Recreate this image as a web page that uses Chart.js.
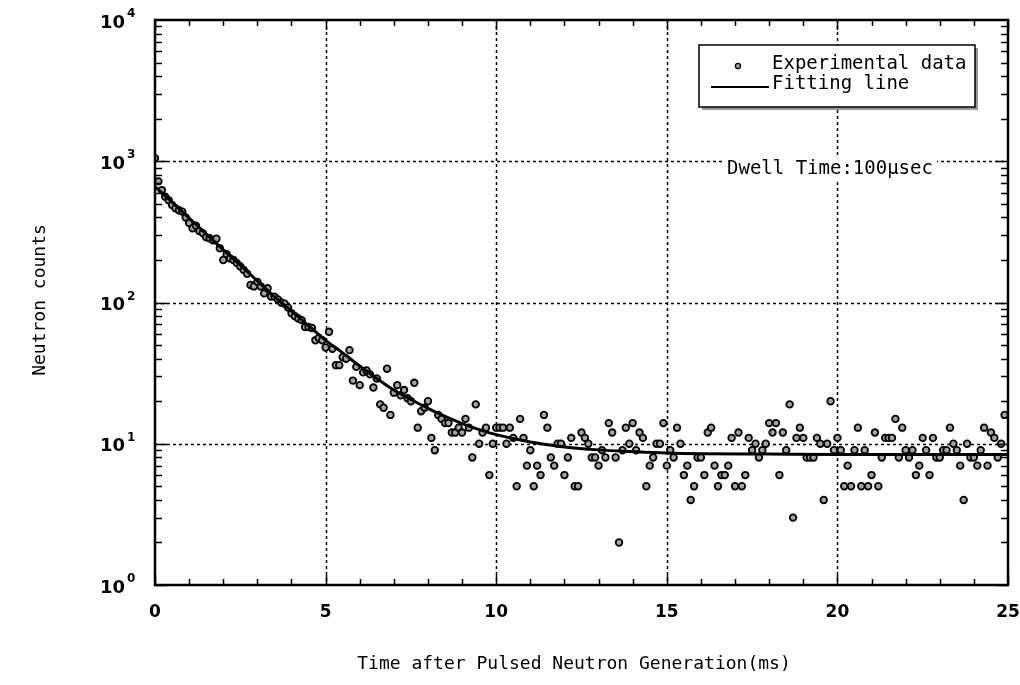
<!DOCTYPE html>
<html>
<head>
<meta charset="utf-8">
<script src="https://cdn.jsdelivr.net/npm/chart.js@4.4.1/dist/chart.umd.min.js"></script>
<style>
  html, body { margin: 0; padding: 0; background: #fff; }
  #wrap { width: 1020px; height: 685px; }
</style>
</head>
<body>
<div id="wrap"><canvas id="chart" width="1020" height="685"></canvas></div>
<script>
"use strict";

// ── Data ───────────────────────────────────────────────────
// One count per 0.1 ms channel (dwell time 100 µs), channel 0 at t = 0.
const DWELL_MS = 0.1;
const counts = [
  1050, 720, 625, 560, 530, 490, 465, 450, 440, 400,   // 0.0 – 0.9
  365, 335, 350, 320, 310, 290, 285, 276, 283, 242,    // 1.0 – 1.9
  200, 220, 205, 200, 190, 180, 170, 160, 133, 130,    // 2.0 – 2.9
  140, 130, 116, 126, 110, 110, 105, 100, 98, 92,      // 3.0 – 3.9
  84, 80, 77, 75, 67, 67, 66, 54, 56, 54,              // 4.0 – 4.9
  48, 62, 47, 36, 36, 41, 40, 46, 28, 35,              // 5.0 – 5.9
  26, 32, 33, 31, 25, 29, 19, 18, 34, 16,              // 6.0 – 6.9
  23, 26, 22, 24, 21, 20, 27, 13, 17, 18,              // 7.0 – 7.9
  20, 11, 9, 16, 15, 14, 14, 12, 12, 13,               // 8.0 – 8.9
  12, 15, 13, 8, 19, 10, 12, 13, 6, 10,                // 9.0 – 9.9
  13, 13, 13, 10, 13, 11, 5, 15, 11, 7,                // 10.0 – 10.9
  9, 5, 7, 6, 16, 13, 8, 7, 10, 10,                    // 11.0 – 11.9
  6, 8, 11, 5, 5, 12, 11, 10, 8, 8,                    // 12.0 – 12.9
  7, 9, 8, 14, 12, 8, 2, 9, 13, 10,                    // 13.0 – 13.9
  14, 9, 12, 11, 5, 7, 8, 10, 10, 14,                  // 14.0 – 14.9
  7, 9, 8, 13, 10, 6, 7, 4, 5, 8,                      // 15.0 – 15.9
  8, 6, 12, 13, 7, 5, 6, 6, 7, 11,                     // 16.0 – 16.9
  5, 12, 5, 6, 11, 9, 10, 8, 9, 10,                    // 17.0 – 17.9
  14, 12, 14, 6, 12, 9, 19, 3, 11, 13,                 // 18.0 – 18.9
  11, 8, 8, 8, 11, 10, 4, 10, 20, 9,                   // 19.0 – 19.9
  11, 9, 5, 7, 5, 9, 13, 5, 9, 5,                      // 20.0 – 20.9
  6, 12, 5, 8, 11, 11, 11, 15, 8, 13,                  // 21.0 – 21.9
  9, 8, 9, 6, 7, 11, 9, 6, 11, 8,                      // 22.0 – 22.9
  8, 9, 9, 13, 10, 9, 7, 4, 10, 8,                     // 23.0 – 23.9
  8, 7, 9, 13, 7, 12, 11, 8, 10, 16                    // 24.0 – 24.9
];

// Fitted curve, sampled off the drawn line.
const fitTime = [0, 0.5, 1, 1.5, 2, 2.5, 3, 3.5, 4, 4.5, 5, 5.5, 6, 6.5, 7, 7.5,
                 8, 8.5, 9, 9.5, 10, 11, 12, 13, 14, 15, 16, 18, 20, 22, 25];
const fitCounts = [660, 514, 396, 305, 236, 184, 142, 110, 87, 68.7, 54, 44, 35.5, 29, 24, 20.6,
                   17.8, 15.6, 13.9, 12.6, 11.6, 10.3, 9.5, 9.05, 8.8, 8.6, 8.5, 8.45, 8.4, 8.4, 8.4];

const xTicks = [0, 5, 10, 15, 20, 25];
const yDecades = [0, 1, 2, 3, 4];          // 10^0 … 10^4
const seriesLabels = ["Experimental data", "Fitting line"];
const noteText = "Dwell Time:100\u03bcsec";
const xTitle = "Time after Pulsed Neutron Generation(ms)";
const yTitle = "Neutron counts";

const MONO = '"DejaVu Sans Mono", monospace';
const SANS = '"DejaVu Sans", sans-serif';

// ── Decorations drawn with the chart's own scales ─────────
const frame = {
  id: "frame",
  beforeDatasetsDraw(chart) {
    const { ctx, chartArea: a, scales: { x, y } } = chart;
    ctx.save();
    ctx.strokeStyle = "#000";
    ctx.lineWidth = 1.5;
    ctx.setLineDash([3, 3]);
    xTicks.slice(1, -1).forEach((v) => {
      const px = Math.round(x.getPixelForValue(v)) + 0.5;
      ctx.beginPath(); ctx.moveTo(px, a.top); ctx.lineTo(px, a.bottom); ctx.stroke();
    });
    yDecades.slice(1, -1).forEach((e) => {
      const py = Math.round(y.getPixelForValue(Math.pow(10, e))) + 0.5;
      ctx.beginPath(); ctx.moveTo(a.left, py); ctx.lineTo(a.right, py); ctx.stroke();
    });
    ctx.restore();

    // note with a white box that hides the grid behind it
    ctx.save();
    ctx.font = `19px ${MONO}`;
    const w = ctx.measureText(noteText).width;
    const nx = 727, ny = y.getPixelForValue(1000) + 8;
    ctx.fillStyle = "#fff";
    ctx.fillRect(nx - 4, ny - 11, w + 8, 22);
    ctx.fillStyle = "#000";
    ctx.textBaseline = "middle";
    ctx.fillText(noteText, nx, ny);
    ctx.restore();
  },
  afterDatasetsDraw(chart) {
    const { ctx, chartArea: a, scales: { x, y } } = chart;
    ctx.save();
    ctx.strokeStyle = "#000";
    ctx.lineWidth = 1.5;
    // inward ticks: x every 1 ms, longer on multiples of 5
    for (let t = 0; t <= 25; t++) {
      const px = Math.round(x.getPixelForValue(t)) + 0.5;
      const len = t % 5 === 0 ? 10 : 6;
      ctx.beginPath();
      ctx.moveTo(px, a.bottom); ctx.lineTo(px, a.bottom - len);
      ctx.moveTo(px, a.top); ctx.lineTo(px, a.top + len);
      ctx.stroke();
    }
    // inward ticks: y at 1..9 of each decade
    for (let e = 0; e < 4; e++) {
      for (let m = 1; m <= 9; m++) {
        const py = Math.round(y.getPixelForValue(m * Math.pow(10, e))) + 0.5;
        const len = m === 1 ? 12 : 7;
        ctx.beginPath();
        ctx.moveTo(a.left, py); ctx.lineTo(a.left + len, py);
        ctx.moveTo(a.right, py); ctx.lineTo(a.right - len, py);
        ctx.stroke();
      }
    }
    // frame
    ctx.lineWidth = 2.5;
    ctx.strokeRect(a.left, a.top, a.right - a.left, a.bottom - a.top);

    // y tick labels with superscript exponents
    ctx.fillStyle = "#000";
    ctx.textBaseline = "middle";
    yDecades.forEach((e) => {
      const py = y.getPixelForValue(Math.pow(10, e));
      ctx.font = `bold 18px ${SANS}`;
      ctx.textAlign = "right";
      ctx.fillText("10", 125, py + 3);
      ctx.font = `bold 12px ${SANS}`;
      ctx.textAlign = "left";
      ctx.fillText(String(e), 127, py - 6);
    });

    // axis titles
    ctx.font = `18px ${MONO}`;
    ctx.textAlign = "center";
    ctx.fillText(xTitle, 574, 664);
    ctx.translate(40, 300);
    ctx.rotate(-Math.PI / 2);
    ctx.fillText(yTitle, 0, 0);
    ctx.restore();
  },
  afterDraw(chart) {
    // legend box with drop shadow
    const { ctx } = chart;
    const bx = 699, by = 45, bw = 276, bh = 62;
    ctx.save();
    ctx.fillStyle = "#9a9a9a";
    ctx.fillRect(bx + 3, by + 3, bw, bh);
    ctx.fillStyle = "#fff";
    ctx.fillRect(bx, by, bw, bh);
    ctx.strokeStyle = "#000";
    ctx.lineWidth = 1.5;
    ctx.strokeRect(bx, by, bw, bh);

    ctx.beginPath();
    ctx.arc(738, 66, 2.6, 0, Math.PI * 2);
    ctx.fillStyle = "#999";
    ctx.fill();
    ctx.lineWidth = 1.2;
    ctx.stroke();

    ctx.lineWidth = 2;
    ctx.beginPath(); ctx.moveTo(711, 87); ctx.lineTo(769, 87); ctx.stroke();

    ctx.fillStyle = "#000";
    ctx.font = `19px ${MONO}`;
    ctx.textBaseline = "middle";
    ctx.fillText(seriesLabels[0], 772, 64);
    ctx.fillText(seriesLabels[1], 772, 84);
    ctx.restore();
  },
};

// ── Chart ──────────────────────────────────────────────────
const points = counts.map((c, i) => ({ x: i * DWELL_MS, y: c }));
const fit = fitTime.map((t, i) => ({ x: t, y: fitCounts[i] }));

new Chart(document.getElementById("chart"), {
  type: "scatter",
  data: {
    datasets: [
      {
        label: seriesLabels[1],
        type: "line",
        data: fit,
        borderColor: "#000",
        borderWidth: 3,
        pointRadius: 0,
        cubicInterpolationMode: "monotone",
        order: 0,
      },
      {
        label: seriesLabels[0],
        data: points,
        pointRadius: 3.3,
        pointBorderWidth: 1.8,
        pointBorderColor: "#000",
        pointBackgroundColor: "#a3a3a3",
        showLine: false,
        order: 1,
      },
    ],
  },
  options: {
    responsive: false,
    animation: false,
    layout: { padding: { top: 20, right: 12, left: 0, bottom: 0 } },
    plugins: { legend: { display: false }, tooltip: { enabled: false } },
    scales: {
      x: {
        type: "linear",
        min: 0, max: 25,
        afterBuildTicks: (s) => { s.ticks = xTicks.map((v) => ({ value: v })); },
        afterFit: (s) => { s.height = 100; s.paddingLeft = 0; s.paddingRight = 0; },
        ticks: { color: "#000", padding: 17, maxRotation: 0, font: { family: SANS, size: 17, weight: "bold" } },
        grid: { display: false, drawTicks: false },
        border: { display: false },
      },
      y: {
        type: "logarithmic",
        min: 1, max: 10000,
        afterFit: (s) => { s.width = 155; s.paddingTop = 0; s.paddingBottom = 0; },
        ticks: { display: false },
        grid: { display: false, drawTicks: false },
        border: { display: false },
      },
    },
  },
  plugins: [frame],
});
</script>
</body>
</html>
